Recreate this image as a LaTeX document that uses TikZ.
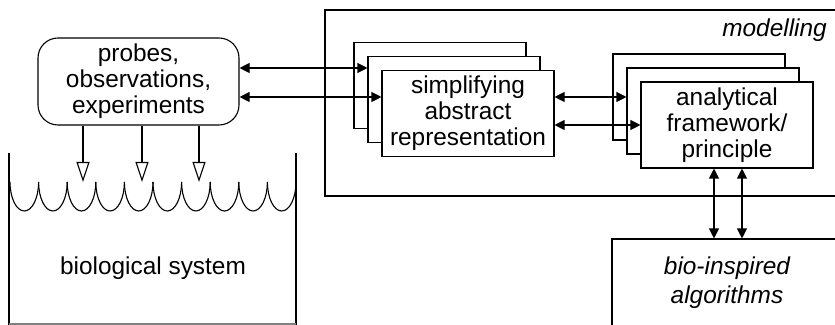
\documentclass[tikz,border=0pt]{standalone}
\usepackage{fontspec}
\setmainfont{Liberation Sans}
\usetikzlibrary{arrows.meta}

\begin{document}
\begin{tikzpicture}[x=0.5pt, y=0.5pt, line width=0.55pt,
        txt/.style  = {font=\fontsize{12.2}{12.9}\selectfont, align=center},
        box/.style  = {txt, draw, fill=white, inner sep=0pt, minimum width=86pt, minimum height=43pt},
        probe/.style = {box, rounded corners=10pt, minimum width=100.5pt, minimum height=43.5pt},
        link/.style = {{Triangle[length=5pt,width=5pt]}-{Triangle[length=5pt,width=5pt]}},
        obs/.style  = {-{Triangle[open,length=10pt,width=6.5pt,fill=white]}},
        wall/.style = {line width=1.1pt}
    ]
        \useasboundingbox (0,0) rectangle (835,325);
        \clip (0,0) rectangle (835,325);
        % modelling frame
        \draw (325,129) rectangle (860,315);
        \node[txt, anchor=east, font=\fontsize{12.2}{12.9}\selectfont\itshape] (mlabel) at (834,295) {modelling};
        % probes
        \node[probe] (probes) at (138.5,243.5) {probes,\\observations,\\experiments};
        % stacked representations
        \foreach \k/\d in {3/28,2/14}
            \node[box] (rep\k) at (468-\d,211.5+\d) {};
        \node[box] (rep) at (468,211.5) {simplifying\\abstract\\representation};
        \foreach \k/\d in {3/28,2/14}
            \node[box] (fw\k) at (727-\d,200+\d) {};
        \node[box] (fw) at (727,200) {analytical\\framework/\\principle};
        % bio-inspired algorithms
        \node[box, minimum width=115pt, minimum height=43.5pt, font=\fontsize{12.2}{14.4}\selectfont\itshape] (bio) at (727,42.5) {bio-inspired\\algorithms};
        % connectors
        \draw[link] (probes.east |- 0,257) -- (rep2.west |- 0,257);
        \draw[link] (probes.east |- 0,228) -- (rep.west |- 0,228);
        \draw[link] (rep.east |- 0,228) -- (fw2.west |- 0,228);
        \draw[link] (rep.east |- 0,200) -- (fw.west |- 0,200);
        \foreach \x in {714,742}
            \draw[link] (fw.south -| \x,0) -- (bio.north -| \x,0);
        % biological system
        \draw[wall] (9,172) -- (9,0) (296,172) -- (296,0);
        \draw[gray] (9,1) -- (296,1);
        \foreach \i in {0,...,9}
            \draw (10+28.6*\i,143) arc[start angle=180, end angle=360, x radius=14.3, y radius=29];
        \coordinate (surf) at (0,143);
        \node[txt] (bsys) at (153,57) {biological system};
        \foreach \x in {83,142,199}
            \draw[obs] (probes.south -| \x,0) -- (surf -| \x,0);
    \end{tikzpicture}
\end{document}
